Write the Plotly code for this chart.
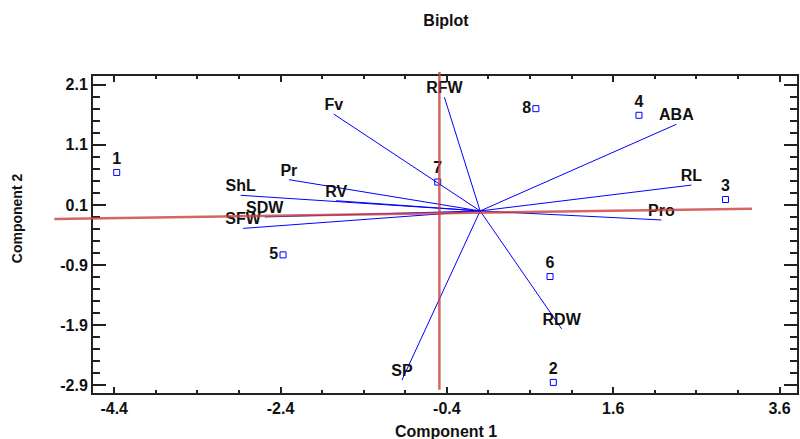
import plotly.graph_objects as go

# ---- data ----
var_names = ["RFW", "Fv", "Pr", "RV", "ShL", "SDW", "SFW", "SP", "RDW", "ABA", "RL", "Pro"]
var_x = [-0.43, -1.76, -2.30, -1.73, -2.88, -2.59, -2.85, -0.94, 0.98, 2.36, 2.54, 2.18]
var_y = [1.89, 1.61, 0.52, 0.17, 0.26, -0.10, -0.29, -2.81, -1.96, 1.44, 0.43, -0.15]

obs_names = ["1", "2", "3", "4", "5", "6", "7", "8"]
obs_x = [-4.37, 0.88, 2.95, 1.91, -2.37, 0.84, -0.51, 0.67]
obs_y = [0.64, -2.85, 0.19, 1.59, -0.73, -1.09, 0.48, 1.70]
obs_pos = ["top center", "top center", "top center", "top center",
           "middle left", "top center", "top center", "middle left"]

# reference (red) lines, data units
hline_x = [-5.12, 3.27]
hline_y = [-0.134, 0.036]
vline_x = [-0.49, -0.49]
vline_y = [-2.97, 2.31]

x_ticks = [-4.4, -2.4, -0.4, 1.6, 3.6]
y_ticks = [2.1, 1.1, 0.1, -0.9, -1.9, -2.9]
XR = [-4.655, 3.81]
YR = [-3.026, 2.243]

FONT = "Liberation Sans, Arial, sans-serif"

fig = go.Figure()

# vectors
lx, ly = [], []
for x, y in zip(var_x, var_y):
    lx += [0, x, None]
    ly += [0, y, None]
fig.add_trace(go.Scatter(x=lx, y=ly, mode="lines",
                         line=dict(color="#0000ff", width=1), hoverinfo="skip"))
fig.add_trace(go.Scatter(x=var_x, y=var_y, mode="text", text=var_names,
                         textposition="top center",
                         textfont=dict(family=FONT, size=16, color="#111111", weight="bold"),
                         cliponaxis=False))

# observations
fig.add_trace(go.Scatter(x=obs_x, y=obs_y, mode="markers+text", text=obs_names,
                         textposition=obs_pos,
                         marker=dict(symbol="square-open", size=6, color="#0000ff",
                                     line=dict(width=1, color="#0000ff")),
                         textfont=dict(family=FONT, size=16, color="#111111", weight="bold"),
                         cliponaxis=False))

def px(v):
    return (v - XR[0]) / (XR[1] - XR[0])

def py(v):
    return (v - YR[0]) / (YR[1] - YR[0])

red = dict(color="rgba(200,65,60,0.8)", width=2.5)
fig.add_shape(type="line", xref="paper", yref="paper",
              x0=px(hline_x[0]), y0=py(hline_y[0]), x1=px(hline_x[1]), y1=py(hline_y[1]),
              line=red, layer="above")
fig.add_shape(type="line", xref="paper", yref="paper",
              x0=px(vline_x[0]), y0=py(vline_y[0]), x1=px(vline_x[1]), y1=py(vline_y[1]),
              line=red, layer="above")

axis_common = dict(showline=True, linecolor="#222222", linewidth=2, mirror="ticks",
                   ticks="inside", tickcolor="#222222", tickwidth=2,
                   showgrid=False, zeroline=False,
                   tickfont=dict(family=FONT, size=16, color="#111111", weight="bold"))

fig.update_layout(
    width=800, height=439,
    margin=dict(l=93, r=1, t=76, b=46),
    paper_bgcolor="white", plot_bgcolor="white",
    showlegend=False,
    title=dict(text="<b>Biplot</b>", x=0.5575, xanchor="center", y=1 - 20.7 / 439,
               yanchor="middle", font=dict(family=FONT, size=16, color="#111111")),
    xaxis=dict(range=XR, tickmode="array", tickvals=x_ticks,
               ticktext=[f"{v:.1f}" for v in x_ticks], ticklen=6,
               minor=dict(dtick=0.5, tick0=-4.4, ticklen=3, ticks="inside",
                          tickcolor="#222222", tickwidth=2, showgrid=False),
               **axis_common),
    yaxis=dict(range=YR, tickmode="array", tickvals=y_ticks,
               ticktext=[f"{v:.1f}" for v in y_ticks], ticklen=13,
               minor=dict(dtick=0.2, tick0=0.1, ticklen=7, ticks="inside",
                          tickcolor="#222222", tickwidth=2, showgrid=False),
               **axis_common),
    annotations=[
        dict(text="<b>Component 1</b>", xref="paper", yref="paper",
             x=(447 - 93) / 706, y=(393 - 432) / 317, xanchor="center", yanchor="middle",
             showarrow=False, font=dict(family=FONT, size=16, color="#111111")),
        dict(text="<b>Component 2</b>", xref="paper", yref="paper",
             x=(17 - 93) / 706, y=(393 - 218) / 317, xanchor="center", yanchor="middle",
             textangle=-90, showarrow=False,
             font=dict(family=FONT, size=14, color="#111111")),
    ],
)

fig.write_html("out.html")
